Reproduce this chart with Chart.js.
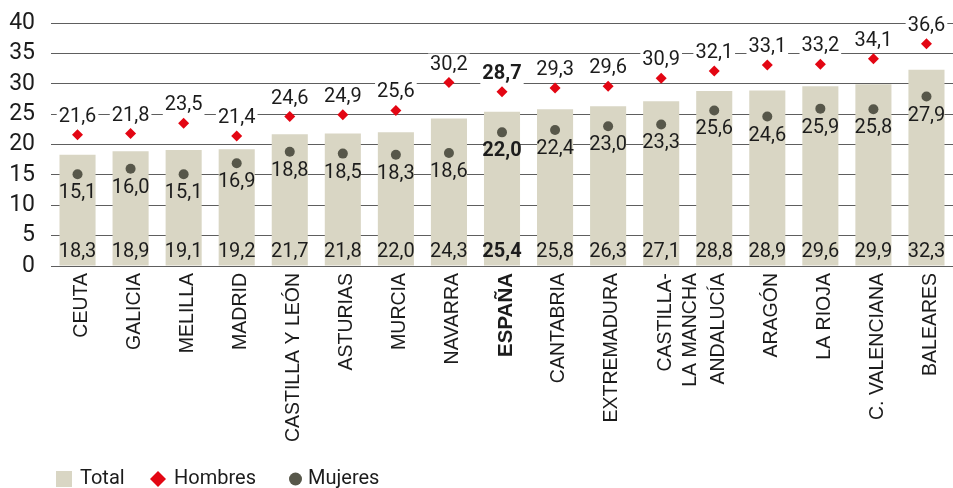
<!DOCTYPE html>
<html lang="es">
<head>
<meta charset="utf-8">
<script src="https://cdn.jsdelivr.net/npm/chart.js@4/dist/chart.umd.min.js"></script>
<style>
  html, body { margin: 0; padding: 0; background: #ffffff; }
  #wrap { width: 953px; height: 488px; position: relative; }
</style>
</head>
<body>
<div id="wrap"><canvas id="chart" width="953" height="488"></canvas></div>
<script>
// Comunidades autónomas, ordered by total
const regiones = [
  'CEUTA', 'GALICIA', 'MELILLA', 'MADRID', 'CASTILLA Y LEÓN', 'ASTURIAS', 'MURCIA',
  'NAVARRA', 'ESPAÑA', 'CANTABRIA', 'EXTREMADURA', ['CASTILLA-', 'LA MANCHA'],
  'ANDALUCÍA', 'ARAGÓN', 'LA RIOJA', 'C. VALENCIANA', 'BALEARES'
];
const total    = [18.3, 18.9, 19.1, 19.2, 21.7, 21.8, 22.0, 24.3, 25.4, 25.8, 26.3, 27.1, 28.8, 28.9, 29.6, 29.9, 32.3];
const hombres  = [21.6, 21.8, 23.5, 21.4, 24.6, 24.9, 25.6, 30.2, 28.7, 29.3, 29.6, 30.9, 32.1, 33.1, 33.2, 34.1, 36.6];
const mujeres  = [15.1, 16.0, 15.1, 16.9, 18.8, 18.5, 18.3, 18.6, 22.0, 22.4, 23.0, 23.3, 25.6, 24.6, 25.9, 25.8, 27.9];
const yTicks   = [0, 5, 10, 15, 20, 25, 30, 35, 40];
const destacado = 'ESPAÑA';

const COL_TOTAL = '#d9d6c4';
const COL_HOMBRES = '#e30613';
const COL_MUJERES = '#57574a';
const COL_TEXT = '#1c1c1c';
const NUM_FONT = 'Roboto, "Liberation Sans", sans-serif';
const LAB_FONT = '"Liberation Sans", Arial, sans-serif';

const fmt = v => v.toFixed(1).replace('.', ',');
const isHighlight = i => regiones[i] === destacado;

// Value labels: totals at the foot of each bar, men above the diamond, women below the dot
const valueLabels = {
  id: 'valueLabels',
  afterDatasetsDraw(chart) {
    const ctx = chart.ctx;
    const area = chart.chartArea;
    const metaT = chart.getDatasetMeta(0);
    const metaH = chart.getDatasetMeta(1);
    const metaM = chart.getDatasetMeta(2);
    ctx.save();
    ctx.textAlign = 'center';
    ctx.textBaseline = 'middle';
    for (let i = 0; i < regiones.length; i++) {
      const bold = isHighlight(i) ? 'bold ' : '';
      ctx.font = bold + '20px ' + NUM_FONT;

      // total
      const bt = metaT.data[i];
      ctx.fillStyle = COL_TEXT;
      ctx.fillText(fmt(total[i]), bt.x, area.bottom - 14);

      // hombres, on a white box
      const ph = metaH.data[i];
      const th = fmt(hombres[i]);
      const wh = ctx.measureText(th).width;
      const yh = ph.y - 18;
      ctx.fillStyle = '#ffffff';
      ctx.fillRect(ph.x - wh / 2 - 2, yh - 11, wh + 4, 22);
      ctx.fillStyle = COL_TEXT;
      ctx.fillText(th, ph.x, yh);

      // mujeres
      const pm = metaM.data[i];
      ctx.fillText(fmt(mujeres[i]), pm.x, pm.y + 19);
    }
    ctx.restore();
  }
};

// Legend row along the bottom edge
const legendRow = {
  id: 'legendRow',
  afterDraw(chart) {
    const ctx = chart.ctx;
    const y = 479;
    ctx.save();
    ctx.font = '20px ' + NUM_FONT;
    ctx.textBaseline = 'middle';
    ctx.textAlign = 'left';

    ctx.fillStyle = chart.data.datasets[0].backgroundColor;
    ctx.fillRect(56, y - 8, 16, 16);
    ctx.fillStyle = COL_TEXT;
    ctx.fillText(chart.data.datasets[0].label, 80, y);

    ctx.fillStyle = chart.data.datasets[1].backgroundColor;
    ctx.beginPath();
    ctx.moveTo(150, y); ctx.lineTo(158, y - 8); ctx.lineTo(166, y); ctx.lineTo(158, y + 8);
    ctx.closePath(); ctx.fill();
    ctx.fillStyle = COL_TEXT;
    ctx.fillText(chart.data.datasets[1].label, 174, y);

    ctx.fillStyle = chart.data.datasets[2].backgroundColor;
    ctx.beginPath();
    ctx.arc(295.5, y, 6.5, 0, Math.PI * 2);
    ctx.fill();
    ctx.fillStyle = COL_TEXT;
    ctx.fillText(chart.data.datasets[2].label, 308, y);
    ctx.restore();
  }
};

new Chart(document.getElementById('chart'), {
  data: {
    labels: regiones,
    datasets: [
      {
        type: 'bar',
        label: 'Total',
        data: total,
        backgroundColor: COL_TOTAL,
        barPercentage: 0.68,
        categoryPercentage: 1,
        order: 3
      },
      {
        type: 'line',
        label: 'Hombres',
        data: hombres,
        showLine: false,
        pointStyle: 'rectRot',
        pointRadius: 5.5,
        pointBorderWidth: 0,
        backgroundColor: COL_HOMBRES,
        borderColor: COL_HOMBRES,
        order: 1
      },
      {
        type: 'line',
        label: 'Mujeres',
        data: mujeres,
        showLine: false,
        pointStyle: 'circle',
        pointRadius: 5,
        pointBorderWidth: 0,
        backgroundColor: COL_MUJERES,
        borderColor: COL_MUJERES,
        order: 2
      }
    ]
  },
  options: {
    responsive: false,
    animation: false,
    devicePixelRatio: 1,
    layout: { autoPadding: false, padding: { top: 23, right: 0, left: 0, bottom: 0 } },
    plugins: {
      legend: { display: false },
      tooltip: { enabled: false }
    },
    scales: {
      x: {
        grid: { display: false, drawTicks: false },
        border: { display: false },
        ticks: {
          autoSkip: false,
          maxRotation: 90,
          minRotation: 90,
          padding: 7,
          labelOffset: 4,
          color: COL_TEXT,
          font: ctx => ({
            family: LAB_FONT,
            size: isHighlight(ctx.index) ? 20.5 : 19.5,
            weight: isHighlight(ctx.index) ? 'bold' : 'normal',
            lineHeight: 1.3
          })
        },
        afterFit(scale) {
          scale.height = 222;
          scale.paddingLeft = 0;
          scale.paddingRight = 0;
        }
      },
      y: {
        min: 0,
        max: 40,
        afterBuildTicks(scale) { scale.ticks = yTicks.map(v => ({ value: v })); },
        grid: { color: '#5e5e5e', lineWidth: 1, drawTicks: false },
        border: { display: false },
        ticks: {
          autoSkip: false,
          padding: 16,
          color: COL_TEXT,
          font: { family: NUM_FONT, size: 23, lineHeight: 0.4 }
        },
        afterFit(scale) { scale.width = 51; }
      }
    }
  },
  plugins: [valueLabels, legendRow]
});
</script>
</body>
</html>
